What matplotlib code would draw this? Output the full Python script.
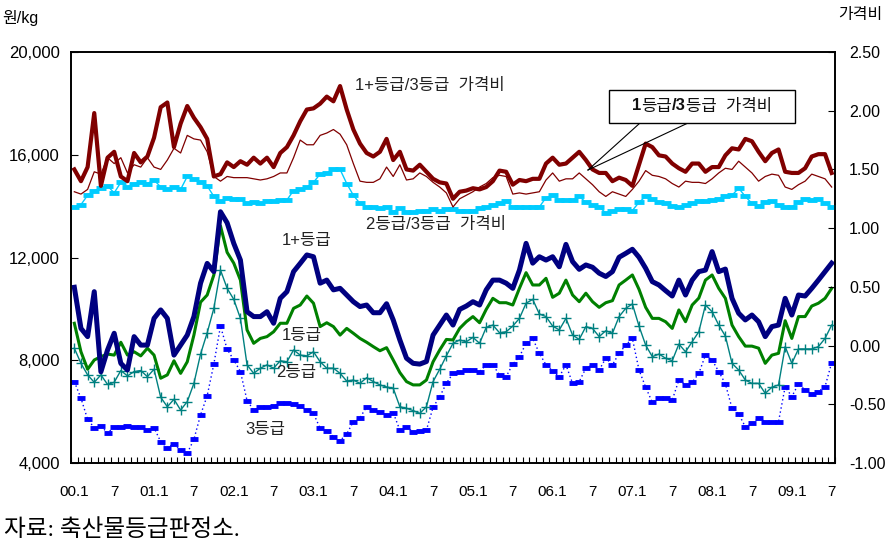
import matplotlib
matplotlib.use("Agg")
import matplotlib.pyplot as plt
import numpy as np
from matplotlib.patches import Rectangle
from matplotlib.lines import Line2D

plt.rcParams["font.family"] = ["Liberation Sans", "Noto Sans CJK KR"]

# monthly, 2000.1 - 2009.7 (won/kg)
grade_1p = [10840, 9240, 8920, 10670, 7550, 8400, 9050, 7880, 7620, 8920, 8590, 8590,
            9630, 9960, 9630, 8200, 8590, 8980, 9700, 11000, 11770, 11450, 13780, 13350,
            12550, 11900, 9890, 9700, 9700, 9890, 9440, 10410, 10670, 11450, 11770, 12100,
            12030, 11000, 11120, 10740, 10800, 10540, 10280, 10090, 10150, 9850, 9850, 10200,
            9570, 8790, 8080, 7880, 7850, 7950, 8980, 9370, 9760, 9370, 9980, 10110,
            10280, 10150, 10740, 11120, 11120, 11000, 10800, 11510, 12550, 11780, 12030, 11900,
            12030, 11640, 12510, 11840, 11540, 11710, 11620, 11390, 11260, 11450, 12010, 12160,
            12320, 12010, 11580, 11060, 10930, 10710, 10500, 11120, 10540, 11120, 11450, 11510,
            12230, 11450, 11550, 10410, 9830, 9570, 9760, 9500, 8920, 9310, 9370, 10410,
            9760, 10540, 10500, 10800, 11120, 11450, 11780]
grade_1 = [9440, 8330, 7650, 8010, 8140, 8240, 8200, 8700, 8200, 8330, 8170, 8470,
           8200, 7300, 7430, 7980, 7490, 7940, 8980, 10260, 10540, 11320, 13230, 12200,
           11780, 11120, 9180, 8660, 8850, 8920, 9110, 9440, 9440, 10020, 10150, 10500,
           10220, 9310, 9460, 9310, 8980, 9240, 9050, 8850, 8700, 8530, 8370, 8490,
           8010, 7520, 7170, 7040, 7040, 7230, 7940, 8400, 8810, 8790, 9240, 9500,
           9700, 9460, 9980, 10410, 10240, 10240, 10150, 10800, 11410, 10930, 10930, 11190,
           10450, 10610, 11120, 10540, 10280, 10610, 10280, 10060, 10240, 10320, 10930, 11120,
           11320, 10760, 10060, 9630, 9630, 9500, 9240, 9960, 9500, 10150, 10420, 11120,
           11320, 10800, 10410, 9370, 8920, 8550, 8550, 8470, 7880, 8200, 8270, 9540,
           8850, 9700, 9700, 10110, 10220, 10410, 10800]
grade_2 = [8470, 7880, 7430, 7140, 7430, 7060, 7140, 7600, 7390, 7560, 7600, 7360,
           7650, 6560, 6190, 6480, 6060, 6390, 7100, 8240, 9070, 10020, 11510, 10800,
           10370, 9630, 7820, 7490, 7690, 7820, 7690, 7980, 7940, 8400, 8200, 8170,
           8330, 7940, 7690, 7690, 7490, 7190, 7230, 7100, 7320, 7170, 7040, 6960,
           6910, 6190, 6130, 6040, 5930, 6190, 7170, 7650, 8170, 8660, 8790, 8720,
           8890, 8660, 9280, 9370, 9070, 9110, 9330, 9630, 10220, 10370, 9800, 9700,
           9330, 9180, 9630, 8980, 8810, 9310, 9240, 8920, 9150, 9050, 9700, 10020,
           10190, 9330, 8590, 8140, 8240, 8080, 7980, 8630, 8330, 8720, 9110, 10150,
           9890, 9370, 8940, 7880, 7620, 7230, 7100, 7100, 6710, 6950, 7040, 8530,
           7880, 8440, 8440, 8440, 8530, 8850, 9370]
grade_3 = [7170, 6520, 5700, 5370, 5450, 5160, 5410, 5410, 5450, 5410, 5410, 5280,
           5370, 4830, 4600, 4740, 4510, 4380, 4920, 5870, 6620, 7850, 9330, 8430,
           8010, 7560, 6430, 6060, 6190, 6190, 6220, 6320, 6350, 6300, 6200, 6060,
           5930, 5350, 5260, 5020, 4870, 5130, 5610, 5760, 6190, 6060, 6000, 5870,
           5960, 5280, 5390, 5220, 5250, 5280, 6170, 6580, 7100, 7490, 7560, 7620,
           7620, 7560, 7820, 7820, 7430, 7360, 7850, 8140, 8660, 8850, 8270, 7820,
           7580, 7360, 7820, 7100, 7170, 7690, 7820, 7620, 8080, 7820, 8270, 8590,
           8850, 7620, 6950, 6360, 6520, 6520, 6450, 7230, 7040, 7140, 7490, 8200,
           8010, 7560, 7080, 6130, 5910, 5410, 5540, 5740, 5610, 5610, 5610, 6970,
           6580, 7080, 6840, 6690, 6780, 6970, 7910]

# price ratios (right axis)
ratio_1p3 = [1.50, 1.40, 1.52, 1.98, 1.36, 1.60, 1.65, 1.44, 1.40, 1.64, 1.56, 1.61,
             1.77, 2.03, 2.07, 1.69, 1.89, 2.04, 1.94, 1.86, 1.76, 1.44, 1.46, 1.56,
             1.52, 1.57, 1.54, 1.60, 1.55, 1.60, 1.52, 1.64, 1.69, 1.79, 1.91, 2.01,
             2.02, 2.06, 2.12, 2.08, 2.21, 2.01, 1.84, 1.72, 1.64, 1.61, 1.65, 1.76,
             1.58, 1.65, 1.50, 1.49, 1.54, 1.48, 1.42, 1.39, 1.38, 1.25, 1.31, 1.32,
             1.34, 1.33, 1.35, 1.40, 1.49, 1.48, 1.37, 1.41, 1.40, 1.42, 1.42, 1.55,
             1.60, 1.54, 1.55, 1.60, 1.65, 1.58, 1.50, 1.47, 1.47, 1.40, 1.43, 1.41,
             1.36, 1.54, 1.72, 1.69, 1.62, 1.61, 1.55, 1.51, 1.48, 1.55, 1.55, 1.48,
             1.52, 1.52, 1.62, 1.68, 1.67, 1.76, 1.74, 1.65, 1.57, 1.64, 1.67, 1.48,
             1.47, 1.47, 1.51, 1.61, 1.63, 1.63, 1.47]
ratio_13 = [1.31, 1.29, 1.33, 1.48, 1.46, 1.60, 1.55, 1.60, 1.47, 1.54, 1.52, 1.60,
            1.52, 1.50, 1.58, 1.68, 1.64, 1.79, 1.76, 1.75, 1.65, 1.44, 1.40, 1.44,
            1.43, 1.43, 1.43, 1.42, 1.41, 1.42, 1.44, 1.47, 1.47, 1.60, 1.75, 1.71,
            1.71, 1.79, 1.81, 1.84, 1.80, 1.71, 1.55, 1.40, 1.39, 1.39, 1.42, 1.52,
            1.44, 1.54, 1.41, 1.42, 1.47, 1.44, 1.39, 1.35, 1.30, 1.18, 1.25, 1.28,
            1.31, 1.35, 1.38, 1.43, 1.45, 1.44, 1.29, 1.30, 1.29, 1.30, 1.31, 1.41,
            1.47, 1.40, 1.42, 1.42, 1.47, 1.42, 1.37, 1.31, 1.27, 1.31, 1.29, 1.27,
            1.33, 1.40, 1.49, 1.45, 1.44, 1.42, 1.38, 1.35, 1.40, 1.39, 1.39, 1.38,
            1.42, 1.47, 1.51, 1.50, 1.57, 1.52, 1.47, 1.40, 1.44, 1.46, 1.45, 1.35,
            1.33, 1.37, 1.40, 1.46, 1.44, 1.42, 1.35]
ratio_23 = [1.18, 1.20, 1.28, 1.32, 1.34, 1.36, 1.30, 1.39, 1.35, 1.38, 1.39, 1.38,
            1.41, 1.35, 1.33, 1.35, 1.33, 1.44, 1.42, 1.39, 1.36, 1.27, 1.23, 1.26,
            1.25, 1.25, 1.21, 1.22, 1.21, 1.23, 1.23, 1.24, 1.24, 1.32, 1.33, 1.35,
            1.39, 1.46, 1.47, 1.50, 1.50, 1.38, 1.28, 1.21, 1.18, 1.18, 1.17, 1.18,
            1.14, 1.17, 1.14, 1.14, 1.15, 1.15, 1.16, 1.15, 1.16, 1.16, 1.15, 1.15,
            1.15, 1.17, 1.18, 1.20, 1.21, 1.23, 1.18, 1.18, 1.18, 1.18, 1.18, 1.26,
            1.28, 1.24, 1.24, 1.24, 1.27, 1.22, 1.20, 1.18, 1.13, 1.15, 1.16, 1.16,
            1.15, 1.22, 1.27, 1.25, 1.22, 1.21, 1.19, 1.18, 1.20, 1.21, 1.23, 1.23,
            1.24, 1.25, 1.27, 1.28, 1.34, 1.27, 1.21, 1.19, 1.22, 1.23, 1.20, 1.18,
            1.18, 1.22, 1.25, 1.24, 1.25, 1.21, 1.18]

months = []
for yy in range(0, 10):
    for mm in range(1, 13):
        if yy == 9 and mm > 7:
            break
        if mm == 1:
            months.append(f"{yy:02d}.1")
        elif mm == 7:
            months.append("7")
        else:
            months.append("")

x = np.arange(len(months))

fig = plt.figure(figsize=(8.94, 5.55), dpi=100)
ax = fig.add_axes([71 / 894, 1 - 463 / 555, (835 - 71) / 894, (463 - 52) / 555])
ax2 = ax.twinx()

# left axis: prices
ax.plot(x, grade_3, color="#0000ff", lw=1, ls=(0, (1, 2)), marker="_", ms=6, mew=3.5, zorder=2)
ax.plot(x, grade_2, color="#008080", lw=1, marker="+", ms=7, mew=1, zorder=3)
ax.plot(x, grade_1, color="#008000", lw=2.2, zorder=4)
ax.plot(x, grade_1p, color="#000080", lw=3.6, zorder=5)

# right axis: ratios
ax2.plot(x, ratio_23, color="#00ccff", lw=1, marker="_", ms=7, mew=3.5)
ax2.plot(x, ratio_13, color="#800000", lw=0.9)
ax2.plot(x, ratio_1p3, color="#800000", lw=3)

ax.set_xlim(-0.5, len(months) - 0.5)
ax.set_ylim(4000, 20000)
ax2.set_ylim(-1.0, 2.5)
ax.set_yticks([4000, 8000, 12000, 16000, 20000])
ax.set_yticklabels([f"{v:,}" for v in [4000, 8000, 12000, 16000, 20000]], fontsize=12)
ax2.set_yticks(np.arange(-1.0, 2.51, 0.5))
ax2.set_yticklabels([f"{v:.2f}" for v in np.arange(-1.0, 2.51, 0.5)], fontsize=11.5)

major = [i for i, m in enumerate(months) if m]
ax.set_xticks(major)
ax.set_xticklabels([months[i] for i in major], fontsize=11,
                   family=["Liberation Sans Narrow", "Liberation Sans"])
ax.set_xticks(np.arange(-0.5, len(months), 1), minor=True)
ax.tick_params(axis="x", which="major", length=0, pad=16)
ax.tick_params(axis="x", which="minor", direction="in", length=4, width=0.8)
ax.tick_params(axis="y", direction="in", length=5, pad=8)
ax2.tick_params(axis="y", direction="in", length=5, pad=10)
for a in (ax, ax2):
    for s in a.spines.values():
        s.set_linewidth(1.2)

# labels
kw = dict(fontsize=12, color="#222222", ha="center", va="center")
ax.text(53.5, 18700, "1+등급/3등급  가격비", **kw)
ax.text(54.5, 13270, "2등급/3등급  가격비", **kw)
ax.text(35, 12680, "1+등급", **kw)
ax.text(34.3, 8980, "1등급", **kw)
ax.text(33.4, 7540, "2등급", **kw)
ax.text(28.8, 5320, "3등급", **kw)

# callout box
fig.add_artist(Rectangle((609 / 894, 1 - 123 / 555), 186 / 894, 33 / 555,
                         transform=fig.transFigure, fill=True, facecolor="white",
                         edgecolor="black", lw=1, zorder=10))
pieces = [("1", "bold"), ("등급", "normal"), ("/3", "bold"), ("등급  가격비", "normal")]
renderer = fig.canvas.get_renderer()
arts, widths = [], []
for s, w in pieces:
    t = fig.text(0, 1 - 106 / 555, s, fontsize=12, weight=w, va="center",
                 ha="left", zorder=11, color="#111111")
    arts.append(t)
    widths.append(t.get_window_extent(renderer).width)
left = 702 - sum(widths) / 2
for t, wdt in zip(arts, widths):
    t.set_x(left / 894)
    left += wdt
for bx in (640, 688):
    fig.add_artist(Line2D([bx / 894, 588 / 894], [1 - 123 / 555, 1 - 170 / 555],
                          transform=fig.transFigure, color="black", lw=0.8, zorder=9))

fig.text(2 / 894, 1 - 18 / 555, "원/kg", fontsize=11.5, va="center")
fig.text(860 / 894, 1 - 15 / 555, "가격비", fontsize=11.5, va="center", ha="center")
fig.text(4 / 894, 1 - 530 / 555, "자료: 축산물등급판정소.", fontsize=17, va="center",
         family=["Liberation Serif", "Noto Sans CJK KR"])

fig.savefig("out.png", dpi=100)
